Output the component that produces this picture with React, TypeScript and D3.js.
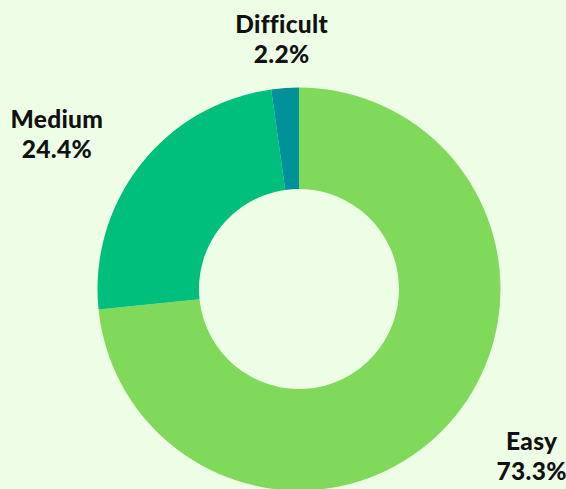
import React, { useEffect, useRef } from "react";
import * as d3 from "d3";

const categories = ["Easy", "Medium", "Difficult"];
const values = [73.3, 24.4, 2.2];
const colors = ["#80D95A", "#00BE7C", "#009199"];

const W = 566;
const H = 489;

export default function App() {
  const ref = useRef<SVGSVGElement | null>(null);

  useEffect(() => {
    const svg = d3.select(ref.current);
    svg.selectAll("*").remove();
    const cx = 299;
    const cy = 289;
    const outerR = 201.5;
    const innerR = 100;
    const labelR = 250;

    svg.append("rect").attr("width", W).attr("height", H).attr("fill", "#EEFEE6");

    const data = categories.map((c, i) => ({ cat: c, value: values[i], color: colors[i] }));
    const pie = d3.pie<any>().value((d) => d.value).sort(null);
    const arcs = pie(data);
    const arc = d3.arc<any>().innerRadius(innerR).outerRadius(outerR);

    const g = svg.append("g").attr("transform", `translate(${cx},${cy})`);
    g.selectAll("path")
      .data(arcs)
      .join("path")
      .attr("d", arc as any)
      .attr("fill", (d: any) => d.data.color);

    arcs.forEach((a: any) => {
      const mid = (a.startAngle + a.endAngle) / 2;
      const px = cx + labelR * Math.sin(mid);
      const py = cy - labelR * Math.cos(mid);
      const lg = svg.append("g");
      const lines = [a.data.cat, a.data.value.toFixed(1) + "%"];
      const texts = lines.map((t, i) =>
        lg
          .append("text")
          .attr("text-anchor", "middle")
          .attr("font-family", "Lato, sans-serif")
          .attr("font-weight", 900)
          .attr("font-size", 24.5)
          .attr("letter-spacing", 0.3)
          .attr("fill", "#111")
          .attr("y", py - 7 + i * 30)
          .text(t)
      );
      const wMax = Math.max(...texts.map((t) => (t.node() as SVGTextElement).getComputedTextLength()));
      const s = Math.sin(mid);
      let x = px;
      if (s > 0.3) x = px + 12 + wMax / 2;
      else if (s < -0.3) x = px + 1 - wMax / 2;
      texts.forEach((t) => t.attr("x", x));
    });
  }, []);

  return (
    <svg
      ref={ref}
      width={W}
      height={H}
      style={{ position: "absolute", left: 0, top: 0, display: "block" }}
    />
  );
}
